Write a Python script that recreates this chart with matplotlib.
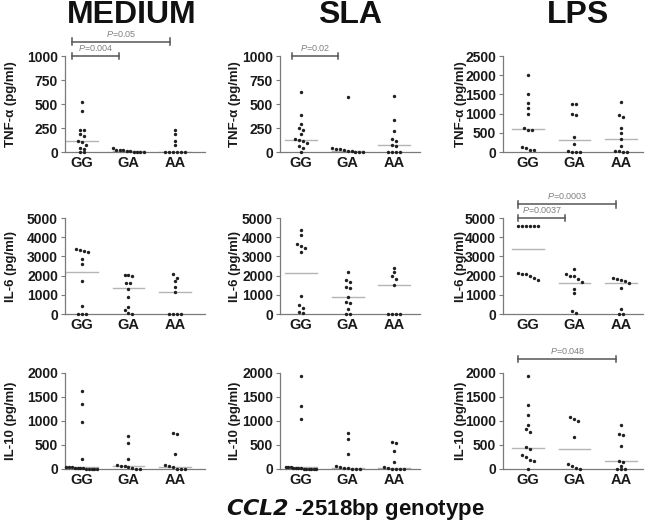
import matplotlib
matplotlib.use('Agg')
import matplotlib.pyplot as plt
import numpy as np

plt.rcParams['font.family'] = ['Liberation Sans', 'DejaVu Sans']
plt.rcParams['mathtext.fontset'] = 'custom'
plt.rcParams['mathtext.rm'] = 'Liberation Sans'
plt.rcParams['mathtext.it'] = 'Liberation Sans:italic'
plt.rcParams['mathtext.bf'] = 'Liberation Sans:bold'

genotypes = ['GG', 'GA', 'AA']
stimuli = ['MEDIUM', 'SLA', 'LPS']
cytokine_labels = ['TNF-α (pg/ml)', 'IL-6 (pg/ml)', 'IL-10 (pg/ml)']

# ---- TNF-alpha ----
tnf_medium_GG = [525, 430, 225, 225, 190, 170, 115, 100, 75, 40, 35, 0, 0]
tnf_medium_GA = [45, 25, 25, 20, 15, 10, 5, 0, 0, 0]
tnf_medium_AA = [230, 190, 110, 75, 0, 0, 0, 0, 0, 0]
tnf_medium_med = [115, 10, 5]

tnf_sla_GG = [620, 390, 290, 255, 225, 185, 140, 125, 110, 95, 60, 40, 0]
tnf_sla_GA = [570, 40, 35, 30, 20, 15, 10, 5, 0, 0]
tnf_sla_AA = [585, 335, 220, 140, 110, 75, 60, 0, 0, 0, 0]
tnf_sla_med = [120, 15, 70]

tnf_lps_GG = [2000, 1500, 1280, 1150, 1000, 620, 580, 560, 130, 100, 60, 40]
tnf_lps_GA = [1250, 1250, 980, 970, 400, 200, 20, 0, 0, 0]
tnf_lps_AA = [1290, 970, 900, 620, 500, 350, 150, 30, 20, 0, 0]
tnf_lps_med = [600, 300, 345]

# ---- IL-6 ----
il6_medium_GG = [3400, 3350, 3300, 3250, 2850, 2600, 1720, 430, 0, 0, 0]
il6_medium_GA = [2050, 2020, 2000, 1600, 1600, 1300, 900, 380, 200, 30, 20]
il6_medium_AA = [2060, 1900, 1700, 1430, 1170, 0, 0, 0, 0]
il6_medium_med = [2180, 1330, 1155]

il6_sla_GG = [4400, 4100, 3650, 3550, 3450, 3250, 950, 480, 310, 120, 40]
il6_sla_GA = [2190, 1760, 1690, 1430, 1340, 900, 600, 550, 260, 0, 0]
il6_sla_AA = [2410, 2190, 1980, 1810, 1520, 0, 0, 0, 0]
il6_sla_med = [2120, 900, 1517]

il6_lps_GG = [4570, 4570, 4570, 4570, 4570, 4570, 2150, 2100, 2060, 1980, 1860, 1760]
il6_lps_GA = [2360, 2070, 2000, 1980, 1810, 1690, 1290, 1090, 170, 40]
il6_lps_AA = [1850, 1830, 1760, 1720, 1640, 1380, 260, 0, 0]
il6_lps_med = [3360, 1640, 1640]

# ---- IL-10 ----
il10_medium_GG = [1630, 1350, 970, 210, 45, 40, 35, 30, 25, 20, 15, 10, 5, 0, 0, 0]
il10_medium_GA = [690, 550, 210, 90, 70, 55, 40, 20, 0, 0]
il10_medium_AA = [760, 720, 310, 90, 55, 40, 0, 0, 0]
il10_medium_med = [40, 70, 40]

il10_sla_GG = [1930, 1310, 1040, 45, 40, 35, 30, 25, 20, 15, 10, 5, 0, 0, 0, 0]
il10_sla_GA = [745, 620, 310, 55, 40, 20, 15, 0, 0, 0]
il10_sla_AA = [555, 550, 385, 140, 40, 15, 0, 0, 0, 0]
il10_sla_med = [40, 15, 15]

il10_lps_GG = [1930, 1330, 1120, 920, 830, 780, 455, 415, 300, 260, 195, 160, 0]
il10_lps_GA = [1080, 1040, 990, 660, 110, 55, 20, 0]
il10_lps_AA = [920, 730, 710, 470, 160, 140, 70, 0, 0, 0]
il10_lps_med = [435, 415, 160]

tnf_ticks = [0, 250, 500, 750, 1000]
tnf_lps_ticks = [0, 500, 1000, 1500, 2000, 2500]
il6_ticks = [0, 1000, 2000, 3000, 4000, 5000]
il10_ticks = [0, 500, 1000, 1500, 2000]

panels = [
    [((tnf_medium_GG, tnf_medium_GA, tnf_medium_AA), tnf_medium_med, tnf_ticks),
     ((tnf_sla_GG, tnf_sla_GA, tnf_sla_AA), tnf_sla_med, tnf_ticks),
     ((tnf_lps_GG, tnf_lps_GA, tnf_lps_AA), tnf_lps_med, tnf_lps_ticks)],
    [((il6_medium_GG, il6_medium_GA, il6_medium_AA), il6_medium_med, il6_ticks),
     ((il6_sla_GG, il6_sla_GA, il6_sla_AA), il6_sla_med, il6_ticks),
     ((il6_lps_GG, il6_lps_GA, il6_lps_AA), il6_lps_med, il6_ticks)],
    [((il10_medium_GG, il10_medium_GA, il10_medium_AA), il10_medium_med, il10_ticks),
     ((il10_sla_GG, il10_sla_GA, il10_sla_AA), il10_sla_med, il10_ticks),
     ((il10_lps_GG, il10_lps_GA, il10_lps_AA), il10_lps_med, il10_ticks)],
]

# significance brackets
sig_rows = [0, 0, 0, 1, 1, 2]
sig_cols = [0, 0, 1, 2, 2, 2]
sig_to = [1, 2, 1, 1, 2, 2]
sig_level = [1000, 1150, 1000, 5000, 5720, 2290]
sig_text = ['0.004', '0.05', '0.02', '0.0037', '0.0003', '0.048']


def jitter(vals, ymax):
    vals = np.asarray(vals, float)
    order = np.argsort(-vals)
    offs = np.zeros(len(vals))
    thr = 0.035 * ymax
    clusters = []
    cur = [order[0]]
    for i in order[1:]:
        if abs(vals[cur[-1]] - vals[i]) < thr:
            cur.append(i)
        else:
            clusters.append(cur)
            cur = [i]
    clusters.append(cur)
    for cl in clusters:
        n = len(cl)
        if n == 1:
            continue
        sp = min(0.085, 0.66 / (n - 1))
        for k, idx in enumerate(cl):
            offs[idx] = (k - (n - 1) / 2) * sp
    return offs


W, H = 653, 530
fig = plt.figure(figsize=(W / 100, H / 100), dpi=100)
col_left = [65, 280, 503]
col_xmin = [-0.36, -0.45, -0.53]
ax_w = 140
row_top = [56, 218, 373]
ax_h = 96
ylabel_x = [-0.34, -0.28, -0.26]
axes = {}
tick_color = '#1a1a1a'
spine_color = '#7a7a7a'

for r in range(3):
    for c in range(3):
        groups, meds, ticks = panels[r][c]
        ax = fig.add_axes([col_left[c] / W, (H - row_top[r] - ax_h) / H, ax_w / W, ax_h / H])
        axes[(r, c)] = ax
        ymax = ticks[-1]
        for g, vals in enumerate(groups):
            offs = jitter(vals, ymax)
            ax.scatter(g + offs, vals, s=6, color='#202020', zorder=3, clip_on=False, linewidths=0)
            ax.plot([g - 0.34, g + 0.34], [meds[g], meds[g]], color='#b5b5b5', lw=1.0, zorder=2)
        ax.set_xlim(col_xmin[c], col_xmin[c] + 3.0)
        ax.set_ylim(0, ymax)
        ax.set_yticks(ticks)
        ax.set_yticklabels([str(t) for t in ticks], fontweight='bold', fontsize=10, color=tick_color)
        ax.set_xticks([0, 1, 2])
        ax.set_xticklabels(genotypes, fontweight='bold', fontsize=10.5, color=tick_color)
        ax.tick_params(axis='x', length=0, pad=3)
        ax.tick_params(axis='y', length=3, width=0.8, color=spine_color, pad=2)
        for s in ['top', 'right']:
            ax.spines[s].set_visible(False)
        for s in ['left', 'bottom']:
            ax.spines[s].set_color(spine_color)
            ax.spines[s].set_linewidth(0.9)
        ax.set_ylabel(cytokine_labels[r], fontweight='bold', fontsize=9.5, color=tick_color)
        ax.yaxis.set_label_coords(ylabel_x[c], 0.5)

for r, c, g2, lev, txt in zip(sig_rows, sig_cols, sig_to, sig_level, sig_text):
    ax = axes[(r, c)]
    ymax = panels[r][c][2][-1]
    x1, x2 = -0.2, g2 - 0.2 + (0.1 if g2 == 2 else 0)
    d = 0.035 * ymax
    ax.plot([x1, x2], [lev, lev], color='#555555', lw=1.1, clip_on=False, zorder=4)
    ax.plot([x1, x1], [lev - d, lev + d], color='#555555', lw=1.1, clip_on=False, zorder=4)
    ax.plot([x2, x2], [lev - d, lev + d], color='#555555', lw=1.1, clip_on=False, zorder=4)
    ax.text((x1 + x2) / 2, lev + 0.03 * ymax, r'$\mathit{P}$=' + txt, ha='center', va='bottom',
            fontsize=6.5, color='#808080', clip_on=False)

title_x = [132, 350, 578]
for c in range(3):
    fig.text(title_x[c] / W, 1 - 15 / H, stimuli[c], ha='center', va='center',
             fontsize=23, fontweight='bold', color='#111111')

fig.text(355 / W, 1 - 510 / H, r'$\mathbfit{CCL2}$ -2518bp genotype', ha='center', va='center',
         fontsize=16, fontweight='bold', color='#111111')

fig.savefig('out.png', dpi=100)
